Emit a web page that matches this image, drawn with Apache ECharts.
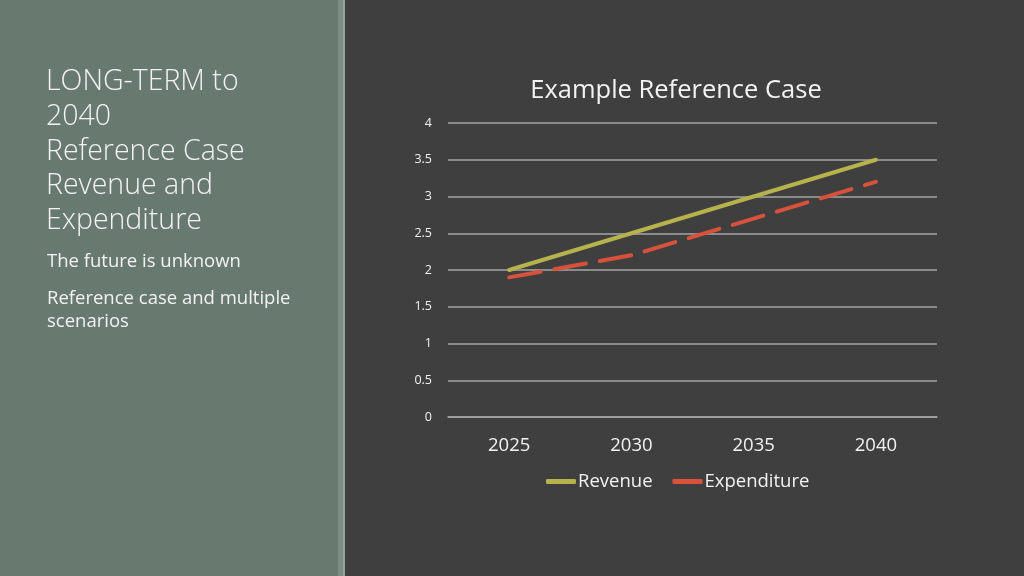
<!DOCTYPE html>
<html>
<head>
<meta charset="utf-8">
<script src="https://cdn.jsdelivr.net/npm/echarts@6/dist/echarts.min.js"></script>
<style>
  html, body { margin: 0; padding: 0; background: #3f3f3f; }
  #chart { width: 1024px; height: 576px; }
</style>
</head>
<body>
<div id="chart"></div>
<script>
const years = ['2025', '2030', '2035', '2040']
const revenue = [2, 2.5, 3, 3.5]
const expenditure = [1.9, 2.2, 2.7, 3.2]
const yTicks = [0, 0.5, 1, 1.5, 2, 2.5, 3, 3.5, 4]

const font = '"Open Sans", sans-serif'
const myChart = echarts.init(document.getElementById('chart'))

const option = {
  backgroundColor: '#3f3f3f',
  textStyle: { fontFamily: font },
  color: ['#b6b24c', '#d8523b'],
  graphic: [
    // left panel + divider strips
    { type: 'rect', shape: { x: 0, y: 0, width: 338, height: 576 }, style: { fill: '#687a6f' }, z: -10 },
    { type: 'rect', shape: { x: 338, y: 0, width: 5, height: 576 }, style: { fill: '#7b8d83' }, z: -10 },
    { type: 'rect', shape: { x: 343, y: 0, width: 2, height: 576 }, style: { fill: '#93a69b' }, z: -10 },
    {
      type: 'text', left: 46, top: 65,
      style: {
        text: 'LONG-TERM to\n2040\nReference Case\nRevenue and\nExpenditure',
        fill: '#f2f2f2', font: '300 28.5px ' + font, lineHeight: 34.6
      }
    },
    {
      type: 'text', left: 47, top: 252,
      style: { text: 'The future is unknown', fill: '#f2f2f2', font: '18.5px ' + font }
    },
    {
      type: 'text', left: 47, top: 287,
      style: { text: 'Reference case and multiple\nscenarios', fill: '#f2f2f2', font: '18.5px ' + font, lineHeight: 23 }
    }
  ],
  title: {
    text: 'Example Reference Case',
    left: 671, top: 73, textAlign: 'center',
    textStyle: { color: '#f2f2f2', fontSize: 25.5, fontWeight: 'normal', fontFamily: font }
  },
  grid: { left: 448, right: 87, top: 123, bottom: 159, containLabel: false },
  legend: {
    data: ['Revenue', 'Expenditure'],
    left: 541, top: 467,
    icon: 'roundRect',
    itemWidth: 30, itemHeight: 5, itemGap: 20,
    textStyle: { color: '#f2f2f2', fontSize: 18.5, fontFamily: font, padding: [0, 0, 0, -3] }
  },
  xAxis: {
    type: 'category',
    data: years,
    boundaryGap: true,
    axisTick: { show: false },
    axisLine: { lineStyle: { color: '#a6a6a6', width: 1.5 } },
    axisLabel: { color: '#f2f2f2', fontSize: 18.5, margin: 19 }
  },
  yAxis: {
    type: 'value',
    min: yTicks[0], max: yTicks[yTicks.length - 1], interval: 0.5,
    axisLine: { show: false },
    axisTick: { show: false },
    axisLabel: { color: '#f2f2f2', fontSize: 12.5, margin: 16 },
    splitLine: { lineStyle: { color: '#a6a6a6', width: 1.5 } }
  },
  series: [
    {
      name: 'Revenue', type: 'line', data: revenue, symbol: 'none',
      lineStyle: { width: 4, cap: 'round' }
    },
    {
      name: 'Expenditure', type: 'line', data: expenditure, symbol: 'none',
      lineStyle: { width: 4, type: [32, 14], cap: 'round' }
    }
  ]
}
myChart.setOption(option)
</script>
</body>
</html>
